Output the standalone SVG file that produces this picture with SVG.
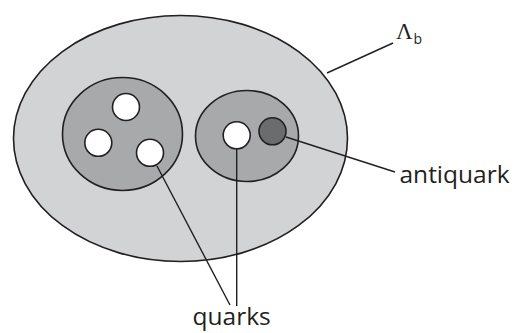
<svg xmlns="http://www.w3.org/2000/svg" width="519" height="333" viewBox="0 0 519 333">
<style>
.e{stroke:#231f20;stroke-width:1.6}
.q{fill:#ffffff;stroke:#231f20;stroke-width:1.6}
.l{fill:none;stroke:#231f20;stroke-width:1.4}
.t{font-family:"Open Sans","Liberation Sans",sans-serif;font-size:24.5px;fill:#231f20}
</style>
<rect width="519" height="333" fill="#ffffff"/>
<g id="lambda_b">
<ellipse class="e" cx="180.5" cy="138.5" rx="167" ry="123" fill="#d2d3d5"/>
</g>
<g id="baryon">
<ellipse class="e" cx="122.5" cy="134" rx="60" ry="56.5" fill="#a8a9ab"/>
<circle class="q" cx="126" cy="107" r="13.5"/>
<circle class="q" cx="98.3" cy="142.8" r="13.5"/>
<circle class="q" cx="150" cy="152.8" r="13.5"/>
</g>
<g id="meson">
<ellipse class="e" cx="247" cy="136" rx="51.5" ry="45.5" fill="#a8a9ab"/>
<circle class="q" cx="236.7" cy="135.3" r="13.5"/>
<circle class="e" cx="272.5" cy="131.3" r="13.5" fill="#6b6c6e"/>
</g>
<g id="connectors">
<line class="l" x1="327" y1="73" x2="393" y2="43"/>
<line class="l" x1="286" y1="137" x2="395" y2="172"/>
<line class="l" x1="157" y1="166" x2="230" y2="305"/>
<line class="l" x1="236.7" y1="148.8" x2="236.7" y2="306"/>
</g>
<g id="labels">
<text x="396" y="38.5" style="font-family:'Liberation Serif',serif;font-size:23px;fill:#231f20">Λ<tspan x="413.5" y="43.5" style="font-family:'Open Sans','Liberation Sans',sans-serif;font-size:14px">b</tspan></text>
<text class="t" x="399.5" y="183">antiquark</text>
<text class="t" x="192.5" y="325">quarks</text>
</g>
</svg>
